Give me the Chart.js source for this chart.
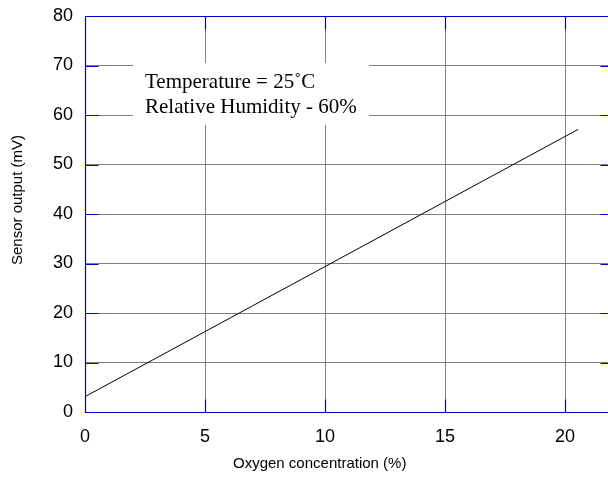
<!DOCTYPE html>
<html>
<head>
<meta charset="utf-8">
<script src="https://cdn.jsdelivr.net/npm/chart.js@4/dist/chart.umd.min.js"></script>
<style>
  body { margin: 0; background: #fff; }
  #wrap { width: 608px; height: 480px; overflow: hidden; }
</style>
</head>
<body>
<div id="wrap"><canvas id="c" width="625" height="480"></canvas></div>
<script>
// Sensor output vs oxygen concentration
const oxygenPct = [0, 20.55];
const sensorMv = [3.1, 57.1];
const xTicks = [0, 5, 10, 15, 20];
const yTicks = [0, 10, 20, 30, 40, 50, 60, 70, 80];
const noteLines = ['Temperature = 25˚C', 'Relative Humidity - 60%'];
const xTitle = 'Oxygen concentration (%)';
const yTitle = 'Sensor output (mV)';

const AXIS_BLUE = '#0000cc';
const GRID_GRAY = '#808080';

// blue inner tick marks on all four sides
const innerTicks = {
    id: 'innerTicks',
    afterDatasetsDraw(chart) {
        const { ctx, chartArea: a, scales: { x, y } } = chart;
        const len = 13;
        const L = Math.round(a.left) + 0.5, R = Math.round(a.right) + 0.5;
        const T = Math.round(a.top) + 0.5, B = Math.round(a.bottom) + 0.5;
        ctx.save();
        ctx.strokeStyle = AXIS_BLUE;
        ctx.lineWidth = 1.2;
        ctx.beginPath();
        xTicks.forEach(v => {
            const px = Math.round(x.getPixelForValue(v)) + 0.5;
            ctx.moveTo(px, B); ctx.lineTo(px, B - len);
            ctx.moveTo(px, T); ctx.lineTo(px, T + len);
        });
        yTicks.forEach(v => {
            const py = Math.round(y.getPixelForValue(v)) + 0.5;
            ctx.moveTo(L, py); ctx.lineTo(L + len, py);
            ctx.moveTo(R, py); ctx.lineTo(R - len, py);
        });
        ctx.rect(L, T, R - L, B - T);
        ctx.stroke();
        ctx.restore();
    }
};

// white note box over the grid
const noteBox = {
    id: 'noteBox',
    beforeDatasetsDraw(chart) {
        const { ctx } = chart;
        ctx.save();
        ctx.fillStyle = '#fff';
        ctx.fillRect(133, 63, 236, 62);
        ctx.fillStyle = '#000';
        ctx.font = '21px "Liberation Serif", "Times New Roman", serif';
        ctx.textBaseline = 'alphabetic';
        ctx.fillText(noteLines[0], 145, 88);
        ctx.fillText(noteLines[1], 145, 113);
        ctx.restore();
    }
};

// axis titles
const axisTitles = {
    id: 'axisTitles',
    afterDraw(chart) {
        const { ctx } = chart;
        ctx.save();
        ctx.fillStyle = '#000';
        ctx.font = '15px "Liberation Sans", Arial, sans-serif';
        ctx.textAlign = 'left';
        ctx.textBaseline = 'alphabetic';
        ctx.fillText(xTitle, 233, 468);
        ctx.translate(22, 200);
        ctx.rotate(-Math.PI / 2);
        ctx.textAlign = 'center';
        ctx.fillText(yTitle, 0, 0);
        ctx.restore();
    }
};

new Chart(document.getElementById('c'), {
    type: 'line',
    data: {
        datasets: [{
            data: oxygenPct.map((v, i) => ({ x: v, y: sensorMv[i] })),
            borderColor: '#000',
            borderWidth: 1,
            pointRadius: 0,
            tension: 0,
            fill: false
        }]
    },
    options: {
        responsive: false,
        animation: false,
        events: [],
        layout: { padding: { top: 16, right: 12, left: 0, bottom: 0 } },
        plugins: { legend: { display: false }, tooltip: { enabled: false } },
        scales: {
            x: {
                type: 'linear',
                min: 0,
                max: 22,
                afterBuildTicks: s => { s.ticks = xTicks.map(v => ({ value: v })); },
                afterFit: s => { s.height = 68; s.paddingLeft = 0; s.paddingRight = 0; },
                grid: { color: GRID_GRAY, drawTicks: false },
                border: { display: false },
                ticks: {
                    color: '#000',
                    padding: 14,
                    font: { family: '"Liberation Sans", Arial, sans-serif', size: 18 }
                }
            },
            y: {
                min: 0,
                max: 80,
                afterBuildTicks: s => { s.ticks = yTicks.map(v => ({ value: v })); },
                afterFit: s => { s.width = 85; s.paddingTop = 0; s.paddingBottom = 0; },
                grid: { color: GRID_GRAY, drawTicks: false },
                border: { display: false },
                ticks: {
                    color: '#000',
                    padding: 12,
                    font: { family: '"Liberation Sans", Arial, sans-serif', size: 18 }
                }
            }
        }
    },
    plugins: [noteBox, innerTicks, axisTitles]
});
</script>
</body>
</html>
